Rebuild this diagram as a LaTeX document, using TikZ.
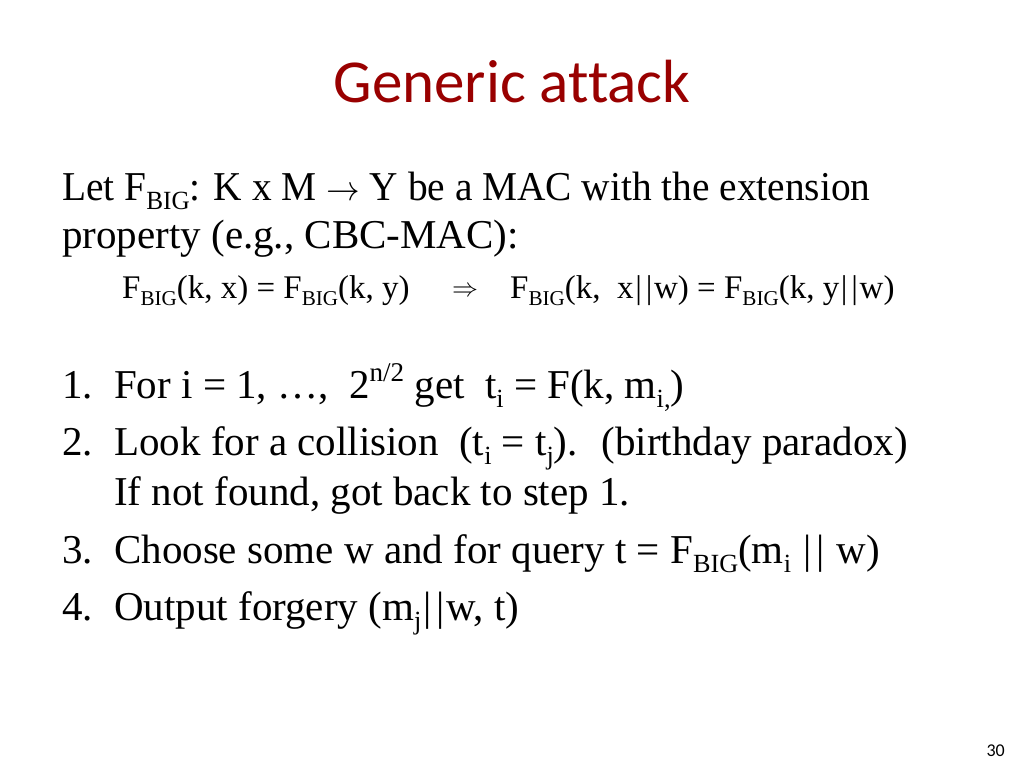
\RequirePackage{fix-cm}
\documentclass[tikz,border=0pt]{standalone}
\usepackage{fontspec}
\usepackage{graphicx}
\setmainfont{Liberation Serif}
\newfontfamily\titlefont{Carlito}[Ligatures=NoCommon]
\usepackage{xcolor}
\definecolor{titlered}{RGB}{153, 0, 0}
\newcommand{\lo}[1]{\raisebox{-.24em}{\scalebox{.64}{#1}}}
\newcommand{\hi}[1]{\raisebox{.40em}{\scalebox{.66}{#1}}}
\newcommand{\bars}{\kern.05em|\kern.12em|\kern.05em}
\tikzset{
	body/.style={anchor=base west, inner sep=0pt, font=\fontsize{41}{49}\selectfont},
	formula/.style={anchor=base west, inner sep=0pt, font=\fontsize{33}{38}\selectfont}
}

\begin{document}
\begin{tikzpicture}[x=1pt, y=-1pt]
		\useasboundingbox[fill=white] (0,0) rectangle (1024,768);
		\node[anchor=base, inner sep=0pt, font=\titlefont\fontsize{61}{70}\selectfont, titlered] (title) at (512,102) {Generic attack};
		\node[body] (intro1) at (62,200) {\scalebox{.96}[1]{Let F\lo{BIG}: K x M {\fontsize{35}{40}\selectfont$\rightarrow$} Y be a MAC with the extension}};
		\node[body] (intro2) at (62,248) {property (e.g., CBC-MAC):};
		\node[formula] (propL) at (122,298) {F\lo{BIG}(k, x) = F\lo{BIG}(k, y)};
		\node[formula, font=\fontsize{26}{30}\selectfont] (implies) at (452,296) {$\Rightarrow$};
		\node[formula] (propR) at (510,298) {F\lo{BIG}(k, \ x\bars w) = F\lo{BIG}(k, y\bars w)};
		% the steps of the attack
		\node[body] (num1) at (62,398) {1.};
		\node[body] (step1) at (114,398) {For i = 1, \dots, \ 2\hi{n/2} get \ t\lo{i} = F(k, m\lo{i,})};
		\node[body] (num2) at (62,455) {2.};
		\node[body] (step2) at (114,455) {Look for a collision \ (t\lo{i} = t\lo{j}). \ (birthday paradox)};
		\node[body] (step2b) at (114,505) {If not found, got back to step 1.};
		\node[body] (num3) at (62,563) {3.};
		\node[body] (step3) at (114,563) {Choose some w and for query t = F\lo{BIG}(m\lo{i} \bars{} w)};
		\node[body] (num4) at (62,620) {4.};
		\node[body] (step4) at (114,620) {Output forgery (m\lo{j}\bars w, t)};
		\node[anchor=base east, inner sep=0pt, font=\titlefont\fontsize{18}{20}\selectfont] (pagenum) at (1005,756) {30};
	\end{tikzpicture}
\end{document}
